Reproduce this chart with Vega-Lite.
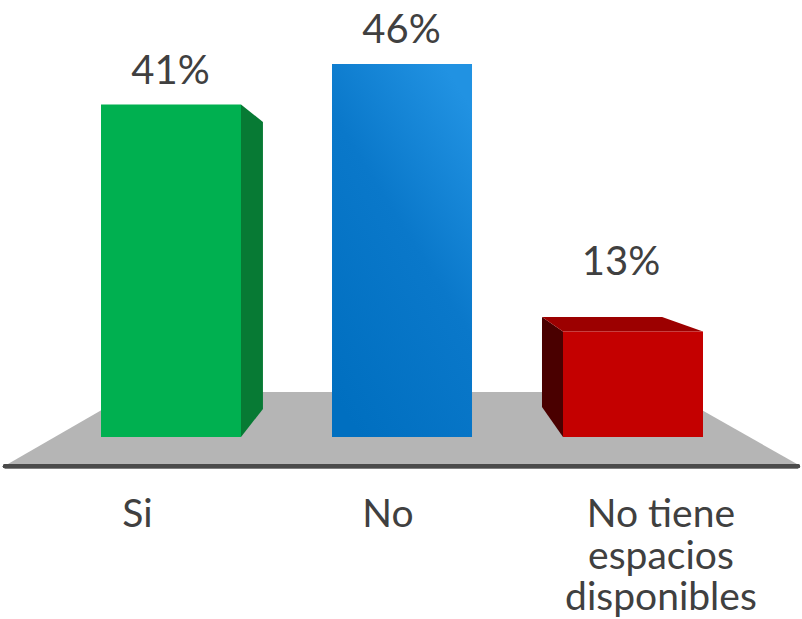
{
  "$schema": "https://vega.github.io/schema/vega-lite/v6.json",
  "width": 802,
  "height": 619,
  "autosize": "none",
  "padding": 0,
  "background": "white",
  "config": {"view": {"stroke": null}},
  "datasets": {
    "bars": [
      {"categoria": "Si", "lineas": ["Si"], "valor": 41, "texto": "41%", "pos": 1, "pos_pct": 0.998, "alto_pct": 43.5, "pos_cat": 0.855},
      {"categoria": "No", "lineas": ["No"], "valor": 46, "texto": "46%", "pos": 2, "pos_pct": 1.998, "alto_pct": 48.6, "pos_cat": 1.939},
      {"categoria": "No tiene espacios disponibles", "lineas": ["No tiene", "espacios", "disponibles"], "valor": 13, "texto": "13%", "pos": 3, "pos_pct": 2.948, "alto_pct": 20.0, "pos_cat": 3.121}
    ],
    "floor": [
      {"x": 0.294, "top": -3.33, "bottom": -3.33},
      {"x": 0.835, "top": 5.55, "bottom": -3.33},
      {"x": 3.160, "top": 5.55, "bottom": -3.33},
      {"x": 3.710, "top": -3.33, "bottom": -3.33}
    ],
    "faces": [
      {"face": "lado verde", "x": 1.303, "top": 41.0, "bottom": 0},
      {"face": "lado verde", "x": 1.398, "top": 38.85, "bottom": 3.45},
      {"face": "lado rojo", "x": 2.606, "top": 14.8, "bottom": 3.7},
      {"face": "lado rojo", "x": 2.697, "top": 13.0, "bottom": 0},
      {"face": "techo rojo", "x": 2.606, "top": 14.8, "bottom": 14.8},
      {"face": "techo rojo", "x": 2.697, "top": 14.8, "bottom": 13.0},
      {"face": "techo rojo", "x": 3.126, "top": 14.8, "bottom": 13.0},
      {"face": "techo rojo", "x": 3.303, "top": 13.0, "bottom": 13.0}
    ]
  },
  "resolve": {"scale": {"color": "independent"}},
  "layer": [
    {
      "data": {"name": "floor"},
      "mark": {"type": "area", "color": "#b5b5b5"},
      "encoding": {
        "x": {"field": "x", "type": "quantitative", "axis": null, "scale": {"type": "linear", "domain": [0.2597, 3.7316], "nice": false, "zero": false, "padding": 0}},
        "y": {"field": "top", "type": "quantitative", "axis": null, "scale": {"domain": [-22.445, 53.891], "nice": false, "zero": false, "padding": 0}},
        "y2": {"field": "bottom"}
      }
    },
    {
      "data": {"name": "floor"},
      "mark": {"type": "rule", "color": "#4a4a4a", "strokeWidth": 4, "strokeCap": "round"},
      "encoding": {
        "x": {"datum": 0.281, "type": "quantitative", "axis": null},
        "x2": {"datum": 3.714},
        "y": {"datum": -3.6, "type": "quantitative", "axis": null}
      }
    },
    {
      "data": {"name": "faces"},
      "mark": {"type": "area", "opacity": 1},
      "encoding": {
        "x": {"field": "x", "type": "quantitative", "axis": null},
        "y": {"field": "top", "type": "quantitative", "axis": null},
        "y2": {"field": "bottom"},
        "detail": {"field": "face"},
        "color": {"field": "face", "type": "nominal", "legend": null, "scale": {"domain": ["lado verde", "lado rojo", "techo rojo"], "range": ["#077a34", "#4a0000", "#9c0000"]}}
      }
    },
    {
      "data": {"name": "bars"},
      "mark": {"type": "bar", "size": 140, "opacity": 1},
      "encoding": {
        "x": {"field": "pos", "type": "quantitative", "axis": null},
        "y": {"field": "valor", "type": "quantitative", "axis": null},
        "y2": {"datum": 0},
        "color": {"field": "categoria", "type": "nominal", "legend": null, "scale": {"domain": ["Si", "No", "No tiene espacios disponibles"], "range": ["#00b050", "#0a76cc", "#c40000"]}}
      }
    },
    {
      "data": {"name": "bars"},
      "transform": [{"filter": "datum.categoria === 'No'"}],
      "mark": {"type": "bar", "size": 140, "fill": {"gradient": "linear", "x1": 0.2, "y1": 1, "x2": 0.8, "y2": 0, "stops": [{"offset": 0, "color": "#006fc0"}, {"offset": 0.55, "color": "#0a78ca"}, {"offset": 1, "color": "#2192e2"}]}},
      "encoding": {
        "x": {"field": "pos", "type": "quantitative", "axis": null},
        "y": {"field": "valor", "type": "quantitative", "axis": null},
        "y2": {"datum": 0}
      }
    },
    {
      "data": {"name": "bars"},
      "mark": {"type": "text", "font": "Lato", "fontSize": 40, "color": "#404040", "align": "center", "baseline": "alphabetic"},
      "encoding": {
        "x": {"field": "pos_pct", "type": "quantitative", "axis": null},
        "y": {"field": "alto_pct", "type": "quantitative", "axis": null},
        "text": {"field": "texto"}
      }
    },
    {
      "data": {"name": "bars"},
      "mark": {"type": "text", "font": "Lato", "fontSize": 39, "color": "#404040", "align": "center", "baseline": "alphabetic", "lineHeight": 41.5},
      "encoding": {
        "x": {"field": "pos_cat", "type": "quantitative", "axis": null},
        "y": {"datum": -11.1, "type": "quantitative", "axis": null},
        "text": {"field": "lineas"}
      }
    }
  ]
}
